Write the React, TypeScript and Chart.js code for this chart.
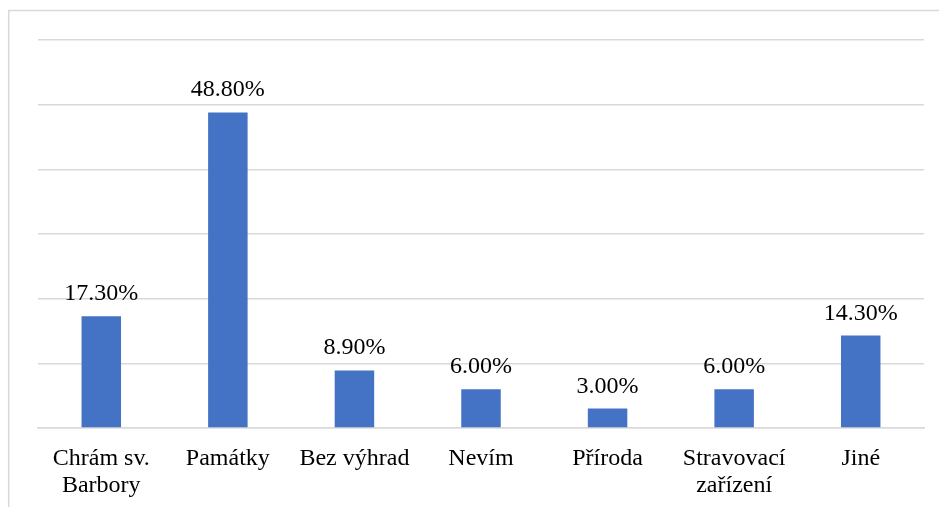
import React, { useEffect, useRef } from "react";
import { Chart, registerables } from "chart.js";

Chart.register(...registerables);

const categories: (string | string[])[] = [
  ["Chrám sv.", "Barbory"],
  "Památky",
  "Bez výhrad",
  "Nevím",
  "Příroda",
  ["Stravovací", "zařízení"],
  "Jiné",
];
const values = [17.3, 48.8, 8.9, 6.0, 3.0, 6.0, 14.3];
const yMax = 60;
const yStep = 10;

const FONT = "'Liberation Serif', 'Times New Roman', serif";

const frame = {
  id: "frame",
  beforeDraw(chart: any) {
    const ctx = chart.ctx;
    ctx.save();
    ctx.fillStyle = "#ffffff";
    ctx.fillRect(0, 0, chart.width, chart.height);
    ctx.strokeStyle = "#d9d9d9";
    ctx.lineWidth = 1.5;
    ctx.strokeRect(8.7, 10.5, 3000, 3000);
    ctx.restore();
  },
};

const valueLabels = {
  id: "valueLabels",
  afterDatasetsDraw(chart: any) {
    const ctx = chart.ctx;
    const meta = chart.getDatasetMeta(0);
    ctx.save();
    ctx.font = `24px ${FONT}`;
    ctx.fillStyle = "#000000";
    ctx.textAlign = "center";
    ctx.textBaseline = "alphabetic";
    meta.data.forEach((bar: any, i: number) => {
      ctx.fillText(`${values[i].toFixed(2)}%`, bar.x, bar.y - 16);
    });
    ctx.restore();
  },
};

export default function App() {
  const ref = useRef<HTMLCanvasElement>(null);
  useEffect(() => {
    const chart = new Chart(ref.current!, {
      type: "bar",
      data: {
        labels: categories,
        datasets: [
          {
            data: values,
            backgroundColor: "#4472C4",
            categoryPercentage: 1,
            barPercentage: 0.312,
          },
        ],
      },
      options: {
        animation: false,
        responsive: false,
        maintainAspectRatio: false,
        layout: { padding: { left: 38, right: 15, top: 40, bottom: 0 } },
        plugins: { legend: { display: false }, tooltip: { enabled: false } },
        scales: {
          x: {
            grid: { display: false },
            border: { display: true, color: "#d9d9d9", width: 1.5 },
            ticks: {
              color: "#000000",
              font: { family: FONT, size: 24, lineHeight: 1.1 },
              padding: 10,
              maxRotation: 0,
              autoSkip: false,
            },
            afterFit(scale: any) {
              scale.height = 79;
            },
          },
          y: {
            min: 0,
            max: yMax,
            ticks: { display: false, stepSize: yStep },
            grid: { color: "#d9d9d9", lineWidth: 1.5, drawTicks: false },
            border: { display: false },
            afterFit(scale: any) {
              scale.width = 0;
            },
          },
        },
      },
      plugins: [frame, valueLabels],
    });
    return () => chart.destroy();
  }, []);
  return (
    <div style={{ position: "fixed", left: 0, top: 0, width: 939, height: 507, overflow: "hidden" }}>
      <canvas ref={ref} width={939} height={507} style={{ display: "block" }} />
    </div>
  );
}
